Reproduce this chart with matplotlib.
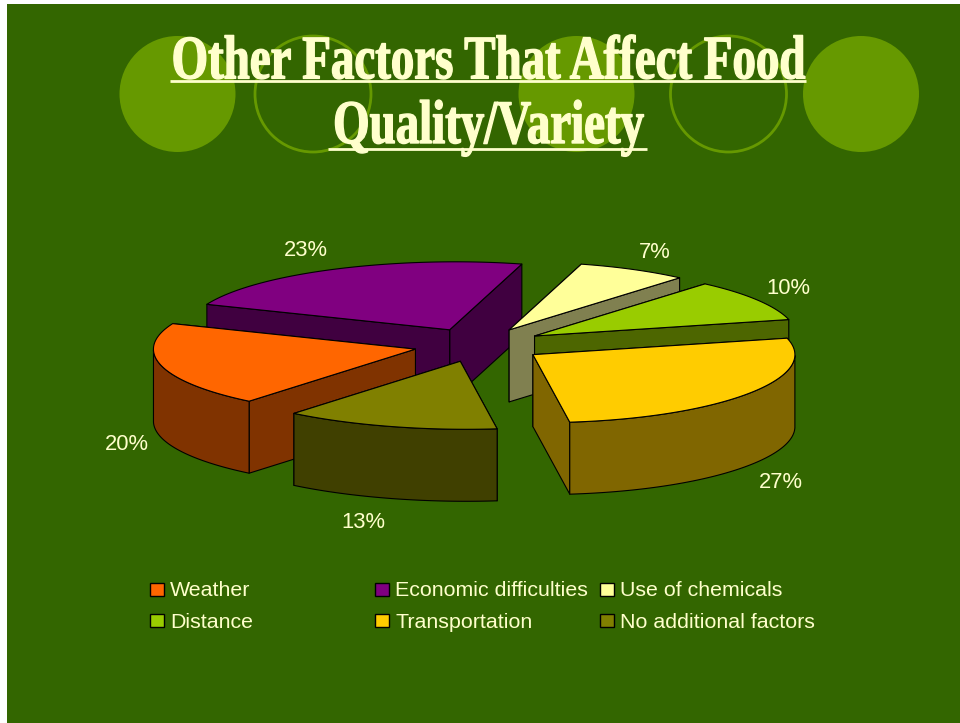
import numpy as np
import matplotlib
matplotlib.use("Agg")
import matplotlib.pyplot as plt
from matplotlib.patches import Circle, Polygon, Rectangle
from matplotlib.patheffects import AbstractPathEffect
from matplotlib.transforms import Affine2D

TITLE = "Other Factors That Affect Food\nQuality/Variety"
LABELS = ["Weather", "Economic difficulties", "Use of chemicals",
          "Distance", "Transportation", "No additional factors"]
VALUES = [20, 23, 7, 10, 27, 13]
TOPS = ["#FF6600", "#800080", "#FFFF99", "#99CC00", "#FFCC00", "#808000"]
WALLS = ["#803300", "#400040", "#808050", "#4D6600", "#806600", "#404000"]

BG = "#336600"
CIRCLE = "#669900"
CREAM = "#FFFFCC"

# pie geometry, pixels
CX, CY = 479, 345
RX, RY = 262, 68
DEPTH = 72
EXPLODE = 0.25
START = 230
LEAN = 6  # rim sits a bit to the right near the top and bottom of the ellipse
DRAW_ORDER = [1, 2, 3, 0, 4, 5]
LABEL_POS = [(127, 445), (306, 250), (655, 252), (788, 288), (781, 482), (363, 523)]


class Squeeze(AbstractPathEffect):
    def __init__(self, sx, cx):
        super().__init__()
        self.sx = sx
        self.cx = cx

    def draw_path(self, renderer, gc, tpath, affine, rgbFace=None):
        squeeze = Affine2D().translate(-self.cx, 0).scale(self.sx, 1).translate(self.cx, 0)
        gc.set_linewidth(1.0)
        gc.set_foreground(rgbFace)
        renderer.draw_path(gc, tpath, affine + squeeze, rgbFace)


fig = plt.figure(figsize=(9.6, 7.23), dpi=100, facecolor="white")
ax = fig.add_axes([0, 0, 1, 1])
ax.set_xlim(0, 960)
ax.set_ylim(723, 0)
ax.axis("off")

ax.add_patch(Rectangle((7, 4), 953, 719, fc=BG, ec="none"))
for x, filled in [(177.5, True), (313, False), (576.5, True), (728.5, False), (861, True)]:
    if filled:
        ax.add_patch(Circle((x, 94), 58, fc=CIRCLE, ec="none"))
    else:
        ax.add_patch(Circle((x, 94), 58, fc="none", ec=CIRCLE, lw=2))


def arc(cx, cy, a0, a1):
    t = np.radians(np.linspace(a0, a1, 80))
    return np.column_stack([cx + RX * np.cos(t) + LEAN * np.sin(t) ** 4, cy - RY * np.sin(t)])


def drop(pts):
    return pts + [0, DEPTH]


# slices run clockwise from START
shares = np.array(VALUES) / sum(VALUES) * 360
ends = START - np.cumsum(shares)
starts = ends + shares

for i in DRAW_ORDER:
    a0, a1 = starts[i], ends[i]
    mid = np.radians((a0 + a1) / 2)
    px = CX + EXPLODE * RX * np.cos(mid)
    py = CY - EXPLODE * RY * np.sin(mid)
    apex = np.array([[px, py]])
    rim = arc(px, py, a0, a1)
    edge = {"ec": "black", "lw": 0.8, "joinstyle": "round"}

    # radial walls, the one further back goes first
    ends_xy = sorted([rim[:1], rim[-1:]], key=lambda p: p[0, 1])
    for p in ends_xy:
        quad = np.vstack([apex, p, drop(p), drop(apex)])
        ax.add_patch(Polygon(quad, fc=WALLS[i], **edge))

    # outer wall, only the front half of the ring shows
    angles = np.linspace(a0, a1, 80)
    front = np.sin(np.radians(angles)) < 0
    if front.any():
        ring = arc(px, py, angles[front][0], angles[front][-1])
        ax.add_patch(Polygon(np.vstack([ring, drop(ring)[::-1]]), fc=WALLS[i], **edge))

    ax.add_patch(Polygon(np.vstack([apex, rim]), fc=TOPS[i], **edge))

for i, (x, y) in enumerate(LABEL_POS):
    ax.text(x, y, f"{VALUES[i]}%", color=CREAM, fontsize=15.8, family="Liberation Sans",
            ha="center", va="center")

# legend
for i, name in enumerate(LABELS):
    x = 150 + 225 * (i % 3)
    y = 589 + 31 * (i // 3)
    ax.add_patch(Rectangle((x, y - 6.5), 14, 13, fc=TOPS[i], ec="black", lw=1))
    ax.text(x + 20, y + 7.5, name, color=CREAM, fontsize=15.4, family="Liberation Sans",
            ha="left", va="baseline")

ax.text(488.5, 143, TITLE, color=CREAM, fontsize=44.6, family="Liberation Serif", weight="bold",
        ha="center", va="baseline", ma="center", linespacing=1.2,
        path_effects=[Squeeze(0.757, 488.5)])
ax.plot([170, 806], [81.3, 81.3], color=CREAM, lw=2, solid_capstyle="butt")
ax.plot([328, 647], [148.7, 148.7], color=CREAM, lw=2, solid_capstyle="butt")

fig.savefig("out.png", dpi=100)
